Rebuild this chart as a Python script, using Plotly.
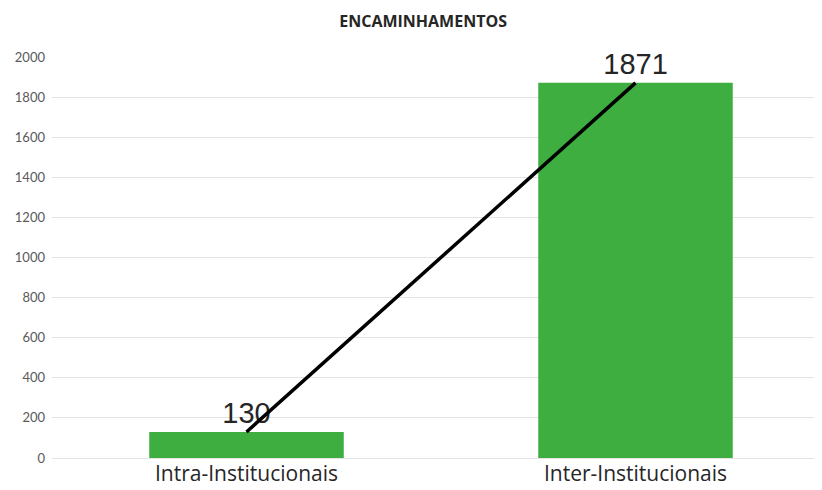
import plotly.graph_objects as go

categorias = ["Intra-Institucionais", "Inter-Institucionais"]
valores = [130, 1871]
ticks_y = [0, 200, 400, 600, 800, 1000, 1200, 1400, 1600, 1800, 2000]

fig = go.Figure()
fig.add_trace(go.Bar(
    x=categorias, y=valores, width=0.5,
    marker=dict(color="#3dae3f", line=dict(width=0)),
    text=valores, textposition="outside",
    textfont=dict(family="Liberation Sans", size=29, color="#262626"),
    cliponaxis=False,
))
fig.add_trace(go.Scatter(
    x=categorias, y=valores, mode="lines",
    line=dict(color="black", width=3.5),
))

# a pagina desloca tudo 8px (margem do body), compensado nas margens
fig.update_layout(
    width=822, height=490,
    margin=dict(l=44, r=0, t=49, b=40),
    plot_bgcolor="white", paper_bgcolor="white",
    showlegend=False,
    title=dict(text="<b>ENCAMINHAMENTOS</b>", x=0.505, xanchor="center", y=0.972, yanchor="middle",
               font=dict(family="Open Sans", size=16, color="#262626")),
    font=dict(family="Open Sans"),
)
fig.update_xaxes(range=[-0.5, 1.5], showgrid=False, ticks="", showline=False,
                 tickfont=dict(size=21, color="#262626"), ticklabelstandoff=1)
fig.update_yaxes(range=[0, 2000], tickvals=ticks_y, showgrid=True, gridcolor="#e4e4e4",
                 zeroline=True, zerolinecolor="#e4e4e4", zerolinewidth=1, showline=False,
                 tickfont=dict(family="Lato", size=13, color="#595959"), ticklabelstandoff=6)

fig.write_html("out.html")
